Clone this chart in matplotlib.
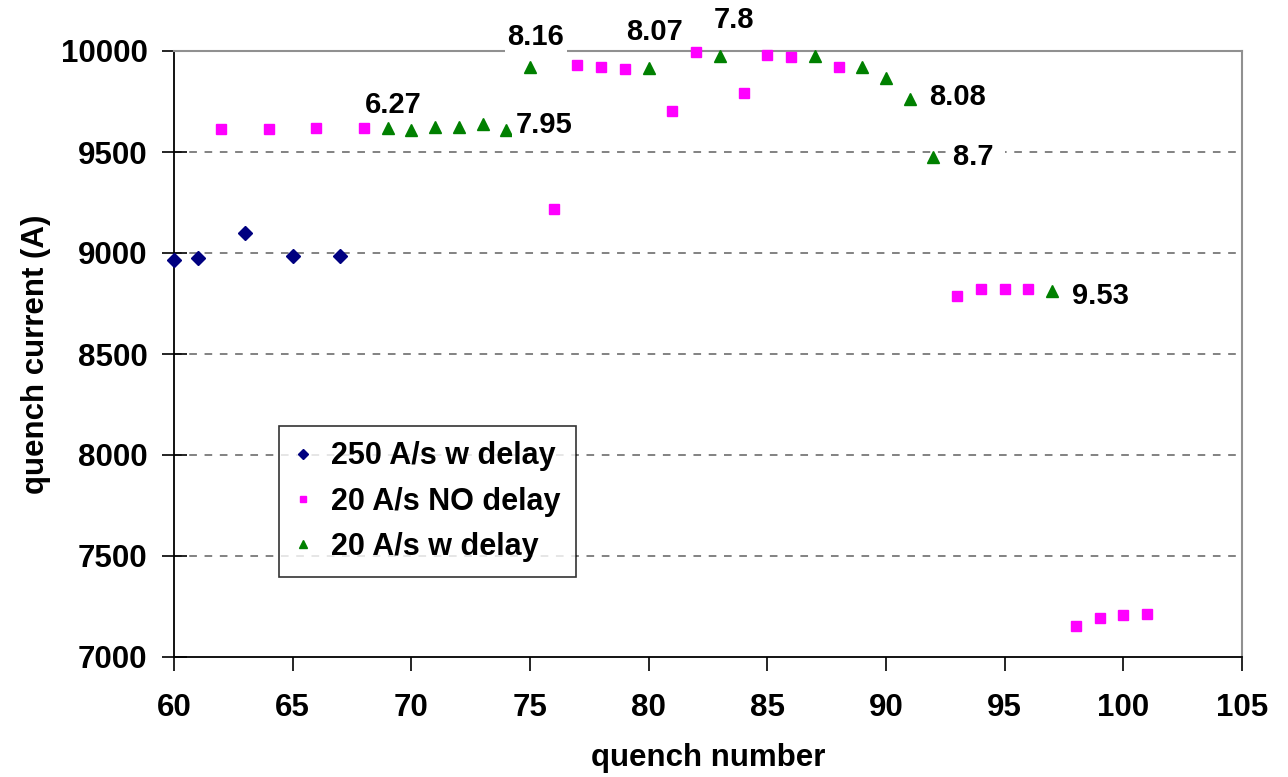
import numpy as np
import matplotlib
matplotlib.use("Agg")
import matplotlib.pyplot as plt

# --- Data ---
n_250_delay = [60, 61, 63, 65, 67]
i_250_delay = [8967, 8975, 9100, 8985, 8985]

n_20_nodelay = [62, 64, 66, 68, 76, 77, 78, 79, 81, 82, 84, 85, 86, 88,
                93, 94, 95, 96, 98, 99, 100, 101]
i_20_nodelay = [9614, 9614, 9620, 9620, 9218, 9929, 9922, 9912, 9704, 9995,
                9794, 9980, 9972, 9922, 8785, 8822, 8822, 8822, 7153, 7191,
                7206, 7213]

n_20_delay = [69, 70, 71, 72, 73, 74, 75, 80, 83, 87, 89, 90, 91, 92, 97]
i_20_delay = [9617, 9609, 9622, 9622, 9639, 9609, 9922, 9914, 9975, 9975,
              9922, 9865, 9762, 9475, 8810]

# labels on some of the "20 A/s w delay" points
lab_n = [69, 74, 75, 80, 83, 91, 92, 97]
lab_txt = ["6.27", "7.95", "8.16", "8.07", "7.8", "8.08", "8.7 ", "9.53"]
lab_off = [(6, 23), (9, 5), (6, 30), (6, 36), (14, 36), (19, 2), (20, 0), (20, -5)]
lab_ha = ["center", "left", "center", "center", "center", "left", "left", "left"]

plt.rcParams['font.family'] = ['Liberation Sans', 'DejaVu Sans']
plt.rcParams['font.weight'] = 'bold'

fig = plt.figure(figsize=(12.88, 7.77), dpi=100)
ax = fig.add_axes([174 / 1288, 1 - 657 / 777, (1242 - 174) / 1288, (657 - 51) / 777])

# --- Grid ---
for y in [7500, 8000, 8500, 9000, 9500]:
    ax.axhline(y, color='#606060', lw=1.1, ls=(0, (5, 5)), zorder=1)

# --- Data ---
ax.plot(n_250_delay, i_250_delay, 'D', color='#000080', ms=7.2, ls='none',
        label='250 A/s w delay', clip_on=False, zorder=3)
ax.plot(n_20_nodelay, i_20_nodelay, 's', color='#FF00FF', ms=6.5, ls='none',
        label='20 A/s NO delay', clip_on=False, zorder=3)
ax.plot(n_20_delay, i_20_delay, '^', color='#008000', ms=8, ls='none',
        label='20 A/s w delay', clip_on=False, zorder=3)

# --- Point labels ---
for n, t, off, ha in zip(lab_n, lab_txt, lab_off, lab_ha):
    y = i_20_delay[n_20_delay.index(n)]
    ax.annotate(t, (n, y), xytext=off, textcoords='offset pixels',
                ha=ha, va='center', fontsize=21, fontweight='bold',
                bbox=dict(facecolor='white', edgecolor='none', pad=2),
                annotation_clip=False, zorder=4)

# --- Axes ---
ax.set_xlim(60, 105)
ax.set_ylim(7000, 10000)
ax.set_xticks(np.arange(60, 106, 5))
ax.set_yticks(np.arange(7000, 10001, 500))

ax.spines['left'].set_color('black')
ax.spines['bottom'].set_color('black')
ax.spines['left'].set_linewidth(1.3)
ax.spines['bottom'].set_linewidth(1.3)
ax.spines['top'].set_color('#909090')
ax.spines['right'].set_color('#909090')
ax.spines['top'].set_linewidth(1.5)
ax.spines['right'].set_linewidth(1.5)

ax.tick_params(axis='x', direction='out', length=10, width=1.2, labelsize=22.5, pad=16)
ax.tick_params(axis='y', direction='inout', length=18, width=1.2, labelsize=22.5, pad=10)
for lbl in ax.get_xticklabels() + ax.get_yticklabels():
    lbl.set_fontweight('bold')

ax.set_xlabel('quench number', fontsize=22.5, fontweight='bold', labelpad=14)
ax.set_ylabel('quench current (A)', fontsize=22.5, fontweight='bold', labelpad=7)

# --- Legend ---
leg = fig.legend(loc='upper left', bbox_to_anchor=(279 / 1288, 1 - 426 / 777),
                 borderaxespad=0, fontsize=22, frameon=True, fancybox=False,
                 edgecolor='black', markerscale=0.7, handlelength=0.6,
                 handletextpad=0.6, labelspacing=0.5, borderpad=0.5)
leg.get_frame().set_linewidth(1.2)
for t in leg.get_texts():
    t.set_fontweight('bold')

fig.savefig('out.png', dpi=100)
